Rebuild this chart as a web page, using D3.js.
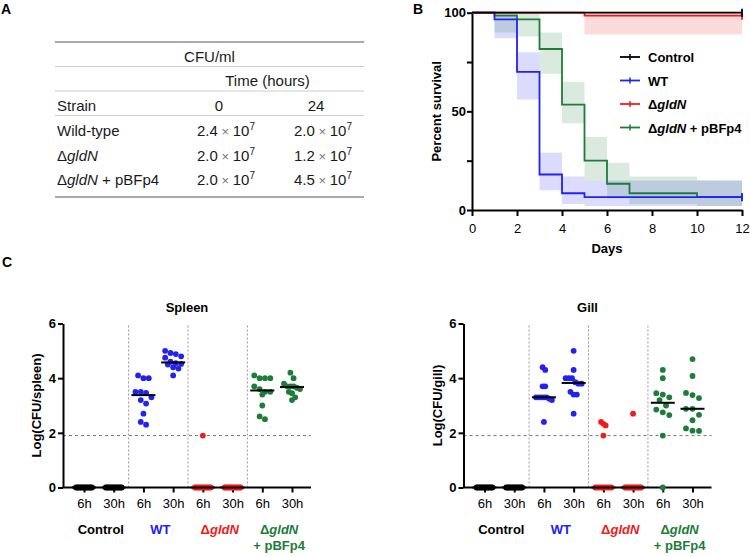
<!DOCTYPE html>
<html lang="en">
<head>
<meta charset="utf-8" />
<title>Survival and bacterial load</title>
<script src="https://cdnjs.cloudflare.com/ajax/libs/d3/7.8.5/d3.min.js"></script>
<style>
  body { margin: 0; background: #fff; }
  svg { display: block; font-family: "Liberation Sans", Arial, Helvetica, sans-serif; }
  .axis path, .axis line { stroke: #000; stroke-width: 2; }
  .axis text { fill: #000; font-size: 13px; }
  .bold text, text.bold { font-weight: bold; }
</style>
</head>
<body>
<svg id="fig" width="750" height="556"></svg>
<script>
// ---- panel A: table ----
const strains = ["Wild-type", "ΔgldN", "ΔgldN + pBFp4"];
const timeCols = ["0", "24"];
const cfuAt0 = [2.4, 2.0, 2.0];
const cfuAt24 = [2.0, 1.2, 4.5];
const cfuExp = 7;

// ---- panel B: Kaplan-Meier ----
const ctrlDays = [0, 12], ctrlSurv = [100, 100];
const wtDays = [0, 1, 2, 3, 4, 5, 12], wtSurv = [100, 96.6, 70, 18, 8.5, 6.5, 6.5];
const gldnDays = [0, 5, 12], gldnSurv = [100, 98.5, 98.5];
const compDays = [0, 1, 2, 3, 4, 5, 6, 7, 10, 12];
const compSurv = [100, 98.5, 96.6, 81.6, 53.4, 25, 13.3, 8.5, 6.6, 6.6];
// confidence bands (step after)
const wtBandDays = [1, 2, 3, 4, 5, 12], wtLo = [87, 56, 10, 3, 2, 2], wtHi = [100, 80, 29, 17, 15, 15];
const compBandDays = [1, 2, 3, 4, 5, 6, 7, 10, 12];
const compLo = [90, 88, 69, 44, 15, 6, 3, 2, 2], compHi = [100, 100, 90, 65, 37, 24, 17, 15, 15];
const gldnBandDays = [5, 12], gldnLo = [89, 89], gldnHi = [100, 100];

// ---- panel C: bacterial load ----
const timeLabels = ["6h", "30h", "6h", "30h", "6h", "30h", "6h", "30h"];
const groupNames = ["Control", "WT", "ΔgldN", "ΔgldN + pBFp4"];
const lod = 1.9;

const spleenControl6h = [0, 0, 0, 0, 0, 0, 0, 0, 0, 0, 0, 0];
const spleenControl30h = [0, 0, 0, 0, 0, 0, 0, 0, 0, 0, 0, 0];
const spleenWT6h = [4.1, 4.0, 4.0, 3.5, 3.5, 3.46, 3.3, 3.2, 3.07, 2.7, 2.4, 2.3];
const spleenWT30h = [5.0, 4.92, 4.88, 4.8, 4.75, 4.6, 4.55, 4.52, 4.5, 4.4, 4.35, 4.1];
const spleenGldN6h = [1.9, 0, 0, 0, 0, 0, 0, 0, 0, 0, 0, 0];
const spleenGldN30h = [0, 0, 0, 0, 0, 0, 0, 0, 0, 0, 0, 0];
const spleenComp6h = [4.1, 4.0, 4.0, 4.0, 3.7, 3.6, 3.5, 3.5, 3.4, 3.0, 2.6, 2.5];
const spleenComp30h = [4.2, 4.0, 3.8, 3.7, 3.7, 3.7, 3.65, 3.6, 3.5, 3.45, 3.3, 3.2];

const gillControl6h = [0, 0, 0, 0, 0, 0, 0, 0, 0, 0, 0, 0];
const gillControl30h = [0, 0, 0, 0, 0, 0, 0, 0, 0, 0, 0, 0];
const gillWT6h = [4.4, 4.3, 3.7, 3.7, 3.3, 3.3, 3.3, 3.3, 3.3, 3.25, 3.2, 2.4];
const gillWT30h = [5.0, 4.3, 4.0, 4.0, 4.0, 3.85, 3.8, 3.8, 3.5, 3.4, 3.4, 2.7];
const gillGldN6h = [2.4, 2.33, 2.27, 1.9, 0, 0, 0, 0, 0, 0, 0, 0];
const gillGldN30h = [2.7, 0, 0, 0, 0, 0, 0, 0, 0, 0, 0, 0];
const gillComp6h = [4.3, 4.0, 3.45, 3.4, 3.3, 3.2, 3.0, 2.85, 2.75, 2.65, 1.9, 0];
const gillComp30h = [4.7, 4.08, 3.46, 3.38, 3.27, 2.88, 2.88, 2.66, 2.46, 2.16, 2.08, 2.07];

const BLUE = "#2222f2", RED = "#ee1c1c", GREEN = "#1d7d38";
const groupColors = ["#000", BLUE, RED, GREEN];

const svg = d3.select("#fig");
svg.append("rect").attr("width", 750).attr("height", 556).attr("fill", "#fff");

function gldnText(sel, suffix) {
  sel.append("tspan").text("Δ");
  sel.append("tspan").attr("font-style", "italic").text("gldN");
  if (suffix) sel.append("tspan").attr("font-style", "normal").text(suffix);
}

// panel letters
[["A", 1, 14], ["B", 413, 14], ["C", 2, 267]].forEach(([t, x, y]) =>
  svg.append("text").attr("x", x).attr("y", y).attr("font-size", 14)
    .attr("font-weight", "bold").text(t));

// ---------- A ----------
(function drawTable() {
  const g = svg.append("g").attr("fill", "#1a1a1a").attr("font-size", 15);
  const left = 55, right = 364;
  [[42, 2, "#aaa"], [66.5, 1, "#ccc"], [91, 1, "#ccc"], [115.5, 1, "#ccc"], [197, 2, "#aaa"]]
    .forEach(([y, w, c]) => g.append("line").attr("x1", left).attr("x2", right)
      .attr("y1", y).attr("y2", y).attr("stroke", c).attr("stroke-width", w));
  const headX = [219, 316], valX = [226, 323];
  g.append("text").attr("x", (left + right) / 2).attr("y", 62).attr("text-anchor", "middle").text("CFU/ml");
  g.append("text").attr("x", (headX[0] + headX[1]) / 2).attr("y", 86).attr("text-anchor", "middle").text("Time (hours)");
  g.append("text").attr("x", 57).attr("y", 111).text("Strain");
  timeCols.forEach((t, i) => g.append("text").attr("x", headX[i]).attr("y", 111)
    .attr("text-anchor", "middle").text(t));
  const rowY = [136, 160.5, 185];
  strains.forEach((s, i) => {
    const t = g.append("text").attr("x", 57).attr("y", rowY[i]);
    if (s.startsWith("Δ")) gldnText(t, s.slice(5)); else t.text(s);
    [cfuAt0[i], cfuAt24[i]].forEach((v, j) => {
      const c = g.append("text").attr("x", valX[j]).attr("y", rowY[i]).attr("text-anchor", "middle");
      c.append("tspan").text(v.toFixed(1));
      c.append("tspan").attr("fill", "#777").attr("font-size", 13).text(" × ");
      c.append("tspan").text("10");
      c.append("tspan").attr("font-size", 10).attr("dy", -6).text(cfuExp);
    });
  });
})();

// ---------- B ----------
(function drawSurvival() {
  const x = d3.scaleLinear().domain([0, 12]).range([472, 742]);
  const y = d3.scaleLinear().domain([0, 100]).range([210, 12.7]);
  const g = svg.append("g");

  const band = d3.area().curve(d3.curveStepAfter)
    .x(d => x(d[0])).y0(d => y(d[1])).y1(d => y(d[2]));
  const bands = [
    [wtBandDays, wtLo, wtHi, BLUE],
    [compBandDays, compLo, compHi, GREEN],
    [gldnBandDays, gldnLo, gldnHi, RED]
  ];
  bands.forEach(([d, lo, hi, c]) => g.append("path")
    .datum(d.map((t, i) => [t, lo[i], hi[i]]))
    .attr("d", band).attr("fill", c).attr("fill-opacity", 0.16));

  // axes
  g.append("g").attr("class", "axis").attr("transform", "translate(0,210)")
    .call(d3.axisBottom(x).tickValues(d3.range(0, 13, 2)).tickSize(6).tickPadding(8).tickSizeOuter(0));
  g.append("g").attr("class", "axis bold").attr("transform", "translate(472,0)")
    .call(d3.axisLeft(y).tickValues([0, 25, 50, 75, 100]).tickSize(5).tickPadding(1).tickSizeOuter(0)
      .tickFormat(d => d % 50 === 0 ? d : ""));

  const line = d3.line().curve(d3.curveStepAfter).x(d => x(d[0])).y(d => y(d[1]));
  const series = [
    { days: compDays, surv: compSurv, c: GREEN },
    { days: wtDays, surv: wtSurv, c: BLUE },
    { days: gldnDays, surv: gldnSurv, c: RED },
    { days: ctrlDays, surv: ctrlSurv, c: "#000" }
  ];
  series.forEach(s => {
    const pts = s.days.map((t, i) => [t, s.surv[i]]);
    g.append("path").datum(pts).attr("d", line).attr("fill", "none")
      .attr("stroke", s.c).attr("stroke-width", 1.8);
    const last = pts[pts.length - 1];
    g.append("line").attr("x1", x(last[0])).attr("x2", x(last[0]))
      .attr("y1", y(last[1]) - 4).attr("y2", y(last[1]) + 4)
      .attr("stroke", s.c).attr("stroke-width", 1.8);
  });

  g.append("text").attr("class", "bold").attr("font-size", 13).attr("text-anchor", "middle")
    .attr("x", (x(0) + x(12)) / 2).attr("y", 253).text("Days");
  g.append("text").attr("class", "bold").attr("font-size", 13).attr("text-anchor", "middle")
    .attr("transform", `translate(441,${(y(0) + y(100)) / 2}) rotate(-90)`).text("Percent survival");

  // legend
  const legColors = ["#000", BLUE, RED, GREEN];
  groupNames.forEach((n, i) => {
    const ly = 57 + i * 23.5;
    const lg = g.append("g").attr("transform", `translate(620,${ly})`);
    lg.append("line").attr("x1", 0).attr("x2", 20).attr("stroke", legColors[i]).attr("stroke-width", 1.8);
    lg.append("line").attr("x1", 10).attr("x2", 10).attr("y1", -3).attr("y2", 3)
      .attr("stroke", legColors[i]).attr("stroke-width", 1.5);
    const t = lg.append("text").attr("x", 28).attr("y", 5).attr("font-size", 13).attr("font-weight", "bold");
    if (n.startsWith("Δ")) gldnText(t, n.slice(5)); else t.text(n);
  });
})();

// ---------- C ----------
// GraphPad-like scatter: bin points by height, spread each row, shrink to a max width
function swarm(values, y, step, maxW) {
  const pts = values.map(v => ({ v, py: y(v) })).sort((a, b) => a.py - b.py);
  const rows = [];
  pts.forEach(p => {
    const r = rows[rows.length - 1];
    if (r && p.py - r[0].py < step) r.push(p); else rows.push([p]);
  });
  rows.forEach(r => r.forEach((p, i) => { p.dx = (i - (r.length - 1) / 2) * step; }));
  const m = d3.max(pts, p => Math.abs(p.dx)) || 1;
  const k = m > maxW ? maxW / m : 1;
  pts.forEach(p => { p.dx *= k; });
  return pts;
}

function drawLoad(left, title, yLabel, groups) {
  const W = 248;
  const g = svg.append("g");
  const y = d3.scaleLinear().domain([0, 6]).range([487.5, 323.5]);
  const x = d3.scalePoint().domain(d3.range(8)).range([left + 21, left + 229]);

  [1, 3, 5].forEach(i => {
    const xm = (x(i) + x(i + 1)) / 2;
    g.append("line").attr("x1", xm).attr("x2", xm).attr("y1", y(0)).attr("y2", y(6))
      .attr("stroke", "#999").attr("stroke-dasharray", "2,2");
  });
  g.append("line").attr("x1", left).attr("x2", left + W).attr("y1", y(lod)).attr("y2", y(lod))
    .attr("stroke", "#777").attr("stroke-dasharray", "3,3");

  g.append("g").attr("class", "axis bold").attr("transform", `translate(${left},0)`)
    .call(d3.axisLeft(y).tickValues([0, 2, 4, 6]).tickFormat(d3.format("d"))
      .tickSize(5).tickPadding(2).tickSizeOuter(0));
  const xa = g.append("g").attr("class", "axis").attr("transform", `translate(0,${y(0)})`)
    .call(d3.axisBottom(x).tickSize(5).tickPadding(6).tickFormat(i => timeLabels[i]));
  xa.select(".domain").remove();
  xa.append("line").attr("x1", left).attr("x2", left + W).attr("stroke", "#000").attr("stroke-width", 2);

  groups.forEach((vals, i) => {
    const c = groupColors[Math.floor(i / 2)];
    swarm(vals, y, 6.5, 8).forEach(p =>
      g.append("circle").attr("cx", x(i) + p.dx).attr("cy", p.py).attr("r", 2.9).attr("fill", c));
    const med = d3.median(vals);
    g.append("line").attr("x1", x(i) - 12).attr("x2", x(i) + 12)
      .attr("y1", y(med)).attr("y2", y(med)).attr("stroke", "#000").attr("stroke-width", 2);
  });

  groupNames.forEach((n, gi) => {
    const cx = (x(gi * 2) + x(gi * 2 + 1)) / 2 + 2;
    const t = g.append("text").attr("x", cx).attr("y", 533.5).attr("text-anchor", "middle")
      .attr("font-size", 13).attr("font-weight", "bold").attr("fill", groupColors[gi]);
    if (n.startsWith("Δ")) {
      gldnText(t);
      if (n.length > 5) g.append("text").attr("x", cx).attr("y", 550).attr("text-anchor", "middle")
        .attr("font-size", 13).attr("font-weight", "bold").attr("fill", groupColors[gi]).text(n.slice(6));
    } else t.text(n);
  });

  g.append("text").attr("x", left + W / 2).attr("y", 311.5).attr("text-anchor", "middle")
    .attr("font-size", 13).attr("font-weight", "bold").text(title);
  g.append("text").attr("font-size", 13).attr("font-weight", "bold").attr("text-anchor", "middle")
    .attr("transform", `translate(${left - 22},${(y(0) + y(6)) / 2}) rotate(-90)`).text(yLabel);
}

drawLoad(63, "Spleen", "Log(CFU/spleen)", [spleenControl6h, spleenControl30h, spleenWT6h, spleenWT30h,
  spleenGldN6h, spleenGldN30h, spleenComp6h, spleenComp30h]);
drawLoad(463.5, "Gill", "Log(CFU/gill)", [gillControl6h, gillControl30h, gillWT6h, gillWT30h,
  gillGldN6h, gillGldN30h, gillComp6h, gillComp30h]);
</script>
</body>
</html>
